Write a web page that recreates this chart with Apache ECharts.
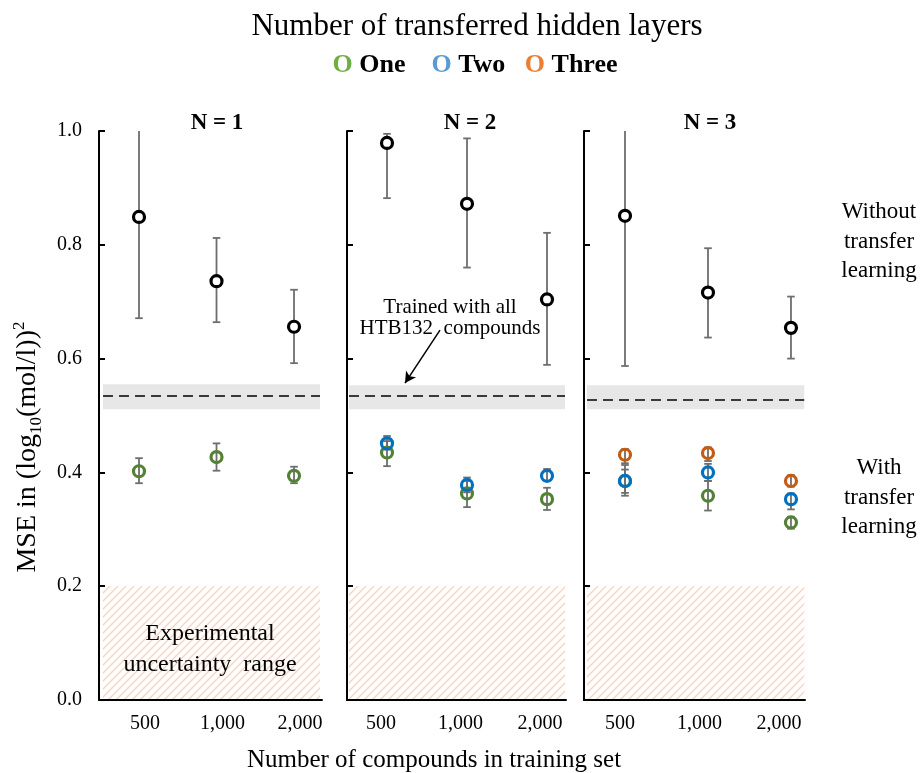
<!DOCTYPE html>
<html><head><meta charset="utf-8">
<script src="https://cdn.jsdelivr.net/npm/echarts@6/dist/echarts.min.js"></script>
<style>html,body{margin:0;padding:0;background:#fff}#c{width:921px;height:773px}</style>
</head><body><div id="c"></div><script>
// ---------- data ----------
const categories = ['500', '1,000', '2,000'];
const xPositions = [0, 1, 2];
const panelTitles = ['N = 1', 'N = 2', 'N = 3'];
const seriesNames = ['One', 'Two', 'Three'];

// Without transfer learning (black), per panel N=1..3
const withoutMean = [[0.849, 0.736, 0.656], [0.979, 0.872, 0.704], [0.851, 0.716, 0.654]];
const withoutLow  = [[0.671, 0.664, 0.592], [0.882, 0.760, 0.589], [0.587, 0.637, 0.600]];
const withoutHigh = [[1.03, 0.812, 0.721], [0.995, 0.987, 0.821], [1.03, 0.794, 0.709]];

// With transfer learning: one transferred hidden layer
const oneMean = [[0.402, 0.427, 0.394], [0.435, 0.363, 0.353], [0.385, 0.359, 0.312]];
const oneLow  = [[0.381, 0.403, 0.381], [0.411, 0.339, 0.334], [0.364, 0.333, 0.301]];
const oneHigh = [[0.425, 0.451, 0.410], [0.455, 0.385, 0.373], [0.405, 0.385, 0.322]];
// two transferred hidden layers
const twoMean = [null, [0.451, 0.378, 0.394], [0.385, 0.400, 0.353]];
const twoLow  = [null, [0.440, 0.365, 0.385], [0.359, 0.385, 0.335]];
const twoHigh = [null, [0.464, 0.391, 0.406], [0.413, 0.415, 0.363]];
// three transferred hidden layers
const threeMean = [null, null, [0.431, 0.434, 0.385]];
const threeLow  = [null, null, [0.416, 0.420, 0.375]];
const threeHigh = [null, null, [0.441, 0.444, 0.395]];

// Reference: trained with all HTB132 compounds (mean and band)
const refMean = [0.534, 0.534, 0.527];
const refLow  = [0.511, 0.511, 0.511];
const refHigh = [0.555, 0.553, 0.553];
// Experimental uncertainty range
const uncertaintyMax = 0.2;

// ---------- layout / style ----------
const FONT = "'Liberation Serif', 'Times New Roman', serif";
const layout = [
  {left: 99,  width: 223, xMin: -0.516, xMax: 2.361, lblMin: -0.594, lblMax: 2.284, aFrom: -0.464, aTo: 2.335, titleX: 217},
  {left: 347, width: 219, xMin: -0.5,   xMax: 2.2375, lblMin: -0.428, lblMax: 2.327, aFrom: -0.475, aTo: 2.225, titleX: 470},
  {left: 584, width: 221, xMin: -0.494, xMax: 2.169, lblMin: -0.453, lblMax: 2.327, aFrom: -0.458, aTo: 2.16,  titleX: 710}
];
const GRID_TOP = 131, GRID_H = 569;
const markerColors = {One: '#548235', Two: '#0070c0', Three: '#c55a11'};
const legendColors = {One: '#70ad47', Two: '#5b9bd5', Three: '#ed7d31'};
const ERR_COLOR = '#6e6e6e';

// hatch pattern
const pat = document.createElement('canvas');
pat.width = 8; pat.height = 8;
const pc = pat.getContext('2d');
pc.fillStyle = '#ffffff'; pc.fillRect(0, 0, 8, 8);
pc.strokeStyle = '#f9d2bc'; pc.lineWidth = 1.3;
pc.beginPath();
pc.moveTo(-2, 10); pc.lineTo(10, -2);
pc.moveTo(-2, 2); pc.lineTo(2, -2);
pc.moveTo(6, 10); pc.lineTo(10, 6);
pc.stroke();

function errRender(params, api) {
  const x = api.value(0), lo = api.value(1), hi = api.value(2);
  const top = Math.min(hi, 1);
  const pLo = api.coord([x, lo]), pHi = api.coord([x, top]);
  const st = {stroke: ERR_COLOR, lineWidth: 1.8};
  const hw = 3.8;
  const ch = [
    {type: 'line', shape: {x1: pLo[0], y1: pLo[1], x2: pHi[0], y2: pHi[1]}, style: st},
    {type: 'line', shape: {x1: pLo[0] - hw, y1: pLo[1], x2: pLo[0] + hw, y2: pLo[1]}, style: st}
  ];
  if (hi <= 1.0001) ch.push({type: 'line', shape: {x1: pHi[0] - hw, y1: pHi[1], x2: pHi[0] + hw, y2: pHi[1]}, style: st});
  return {type: 'group', children: ch};
}

const grids = [], xAxes = [], yAxes = [], series = [];
layout.forEach((L, i) => {
  grids.push({left: L.left, top: GRID_TOP, width: L.width, height: GRID_H, containLabel: false});
  xAxes.push({
    type: 'value', gridIndex: i, min: L.xMin, max: L.xMax, z: 5,
    axisLine: {show: true, onZero: false, lineStyle: {color: '#000', width: 2}},
    axisTick: {show: false}, axisLabel: {show: false}, splitLine: {show: false}
  });
  xAxes.push({
    type: 'value', gridIndex: i, min: L.lblMin, max: L.lblMax, position: 'bottom',
    axisLine: {show: false, onZero: false}, axisTick: {show: false}, splitLine: {show: false},
    axisLabel: {show: true, customValues: xPositions, formatter: v => categories[Math.round(v)],
      fontFamily: FONT, fontSize: 20, color: '#000', margin: 14}
  });
  yAxes.push({
    type: 'value', gridIndex: i, min: 0, max: 1, interval: 0.2, z: 5, position: 'left',
    axisLine: {show: true, onZero: false, lineStyle: {color: '#000', width: 2}},
    axisTick: {show: true, inside: true, length: 6, lineStyle: {color: '#000', width: 2}},
    axisLabel: {show: i === 0, formatter: v => v.toFixed(1), fontFamily: FONT, fontSize: 20, color: '#000', margin: 17},
    splitLine: {show: false}
  });
  const xi = 2 * i;
  // black error bars
  series.push({
    type: 'custom', xAxisIndex: xi, yAxisIndex: i, z: 2, clip: true, renderItem: errRender,
    data: xPositions.map((x, k) => [x, withoutLow[i][k], withoutHigh[i][k]])
  });
  // black points with reference band, hatch and dashed line
  series.push({
    type: 'scatter', xAxisIndex: xi, yAxisIndex: i, z: 4, symbol: 'circle', symbolSize: 11,
    itemStyle: {color: '#fff', borderColor: '#000', borderWidth: 3.2, opacity: 1},
    data: xPositions.map((x, k) => [x, withoutMean[i][k]]),
    markArea: {
      silent: true,
      data: [
        [{xAxis: L.aFrom, yAxis: refLow[i], itemStyle: {color: '#e7e7e7'}}, {xAxis: L.aTo, yAxis: refHigh[i]}],
        [{xAxis: L.aFrom, yAxis: 0, itemStyle: {color: {image: pat, repeat: 'repeat'}}}, {xAxis: L.aTo, yAxis: uncertaintyMax}]
      ]
    },
    markLine: {
      silent: true, symbol: ['none', 'none'], label: {show: false},
      lineStyle: {color: '#000', width: 1.5, type: [10, 6]},
      data: [[{coord: [L.aFrom, refMean[i]]}, {coord: [L.aTo, refMean[i]]}]]
    }
  });
  const groups = [
    ['One', oneMean, oneLow, oneHigh],
    ['Two', twoMean, twoLow, twoHigh],
    ['Three', threeMean, threeLow, threeHigh]
  ];
  groups.forEach(([name, M, Lo, Hi]) => {
    if (!M[i]) return;
    series.push({
      type: 'custom', xAxisIndex: xi, yAxisIndex: i, z: 2, clip: true, renderItem: errRender,
      data: xPositions.map((x, k) => [x, Lo[i][k], Hi[i][k]])
    });
  });
  groups.forEach(([name, M]) => {
    if (!M[i]) return;
    series.push({
      name: name, type: 'scatter', xAxisIndex: xi, yAxisIndex: i, z: 4, symbol: 'circle', symbolSize: 11,
      itemStyle: {color: 'rgba(0,0,0,0)', borderColor: markerColors[name], borderWidth: 3.2, opacity: 1},
      data: xPositions.map((x, k) => [x, M[i][k]])
    });
  });
});
// arrow annotation in panel N = 2
series.push({
  type: 'scatter', xAxisIndex: 2, yAxisIndex: 1, data: [], silent: true,
  markLine: {
    silent: true, symbol: ['none', 'arrow'], symbolSize: [9, 11], label: {show: false},
    lineStyle: {color: '#000', width: 1.5, type: 'solid'},
    data: [[{coord: [0.6625, 0.650]}, {coord: [0.225, 0.557]}]]
  }
});

function txt(text, x, y, size, opts) {
  return Object.assign({
    type: 'text', x: x, y: y, z: 100, silent: true,
    style: Object.assign({text: text, font: `${size}px ${FONT}`, fill: '#000', textAlign: 'center',
      textVerticalAlign: 'middle', verticalAlign: 'middle'}, (opts && opts.style) || {})
  }, (opts && opts.el) || {});
}
const graphics = [
  txt('Number of transferred hidden layers', 477, 27, 31),
  {type: 'text', x: 475, y: 65, z: 100, silent: true, style: {
    text: '{g|O} {t|One}    {b|O} {t|Two}   {o|O} {t|Three}',
    textAlign: 'center', textVerticalAlign: 'middle', verticalAlign: 'middle',
    font: `bold 26px ${FONT}`,
    rich: {
      g: {fill: legendColors.One, font: `bold 26px ${FONT}`},
      b: {fill: legendColors.Two, font: `bold 26px ${FONT}`},
      o: {fill: legendColors.Three, font: `bold 26px ${FONT}`},
      t: {fill: '#000', font: `bold 26px ${FONT}`}
    }
  }},
  txt('Without', 879, 212, 23), txt('transfer', 879, 242, 23), txt('learning', 879, 271, 23),
  txt('With', 879, 468, 23), txt('transfer', 879, 498, 23), txt('learning', 879, 527, 23),
  txt('Experimental', 210, 634, 24), txt('uncertainty  range', 210, 665, 24),
  txt('Trained with all', 450, 307, 21), txt('HTB132  compounds', 450, 328, 21),
  txt('Number of compounds in training set', 434, 760, 25),
  {type: 'text', x: 28, y: 447, z: 100, rotation: Math.PI / 2, silent: true, style: {
    text: '{n|MSE in (log}{s|10}{n|(mol/l))}{p|2}',
    textAlign: 'center', textVerticalAlign: 'middle', verticalAlign: 'middle',
    rich: {
      n: {font: `28px ${FONT}`, fill: '#000', lineHeight: 34},
      s: {font: `17px ${FONT}`, fill: '#000', lineHeight: 18, verticalAlign: 'bottom'},
      p: {font: `17px ${FONT}`, fill: '#000', lineHeight: 18, verticalAlign: 'top'}
    }
  }}
];
layout.forEach((L, i) => graphics.push(txt(panelTitles[i], L.titleX, 123, 23, {style: {font: `bold 23px ${FONT}`}})));

const chart = echarts.init(document.getElementById('c'), null, {renderer: 'canvas'});
chart.setOption({
  animation: false,
  backgroundColor: '#fff',
  grid: grids, xAxis: xAxes, yAxis: yAxes, series: series,
  graphic: graphics
});
</script></body></html>
